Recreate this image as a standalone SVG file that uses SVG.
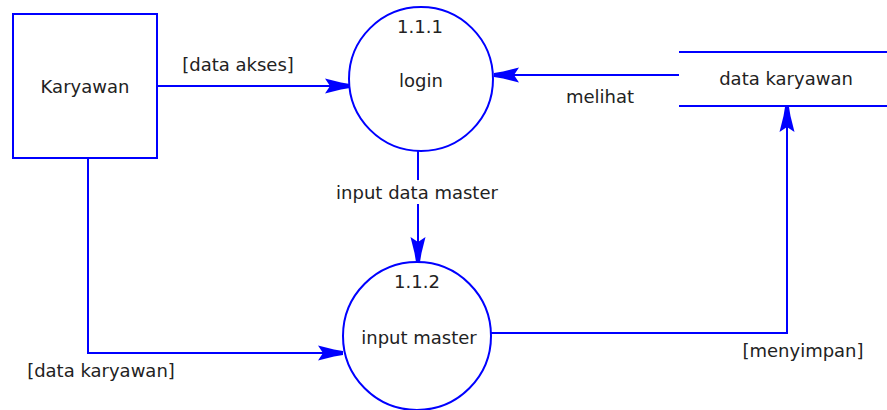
<svg xmlns="http://www.w3.org/2000/svg" width="887" height="410" viewBox="0 0 887 410">
  <defs>
    <style>
      .shape { fill: #ffffff; stroke: #0000ff; stroke-width: 2; }
      .flow { fill: none; stroke: #0000ff; stroke-width: 2; marker-end: url(#head); }
      .store { fill: none; stroke: #0000ff; stroke-width: 2; }
      text { font-family: "DejaVu Sans", Verdana, sans-serif; font-size: 18px; fill: #222222; text-anchor: middle; }
    </style>
    <!-- barbed DFD arrowhead, tip at the origin -->
    <marker id="head" viewBox="-27 -8 28 16" refX="0" refY="0" markerWidth="28" markerHeight="16" markerUnits="userSpaceOnUse" orient="auto">
      <path d="M0,-2 L-9,-3.5 L-25,-7.5 L-20,0 L-25,7.5 L-9,3.5 L0,2 Z" fill="#0000ff"/>
    </marker>
  </defs>

  <rect width="887" height="410" fill="#ffffff"/>

  <g id="connectors">
    <line class="flow" x1="157" y1="86" x2="350" y2="86"/>
    <line class="flow" x1="679" y1="75" x2="494" y2="75"/>
    <line class="flow" x1="418" y1="151" x2="418" y2="262"/>
    <polyline class="flow" points="88,158 88,353 343,353"/>
    <polyline class="flow" points="491,333 787,333 787,107"/>
    <text x="238" y="71">[data akses]</text>
    <text x="600" y="103">melihat</text>
    <!-- label sits on a white patch that breaks the vertical flow -->
    <rect x="334" y="180" width="166" height="24" fill="#ffffff"/>
    <text x="417" y="199">input data master</text>
    <text x="101" y="377">[data karyawan]</text>
    <text x="803" y="357">[menyimpan]</text>
  </g>

  <g id="karyawan">
    <rect class="shape" x="13" y="14" width="144" height="144"/>
    <text x="85" y="93">Karyawan</text>
  </g>

  <g id="login">
    <circle class="shape" cx="421" cy="79" r="72"/>
    <text x="420" y="33">1.1.1</text>
    <text x="421" y="87">login</text>
  </g>

  <g id="input-master">
    <circle class="shape" cx="417" cy="336" r="74"/>
    <text x="417" y="288">1.1.2</text>
    <text x="419" y="344">input master</text>
  </g>

  <g id="data-karyawan">
    <line class="store" x1="679" y1="52" x2="887" y2="52"/>
    <line class="store" x1="679" y1="106" x2="887" y2="106"/>
    <text x="786" y="85">data karyawan</text>
  </g>
</svg>
